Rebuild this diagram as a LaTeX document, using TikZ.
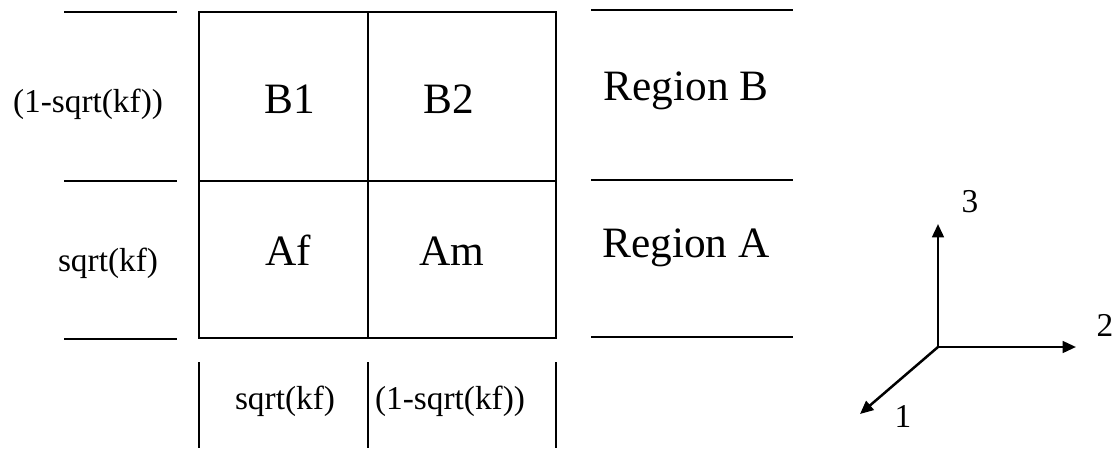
\documentclass[tikz,border=0pt]{standalone}
\usepackage{fontspec}
\setmainfont{Liberation Serif}
\usetikzlibrary{arrows.meta,positioning}

\begin{document}
\begin{tikzpicture}[x=0.6pt,y=-0.6pt,line width=1.4pt,
    cell/.style={font=\fontsize{26}{28}\selectfont},
    ratio/.style={font=\fontsize{20}{22}\selectfont},
    axis/.style={line width=1.5pt,-{Triangle[length=8pt,width=7pt]}}]
  \useasboundingbox (0,0) rectangle (1115,448);
  % the four cells
  \draw (199,12) rectangle (556,338);
  \draw (368,12) -- (368,338);
  \draw (199,181) -- (556,181);
  \node[cell] (b1) at (290,99) {B1};
  \node[cell] (b2) at (449,99) {B2};
  \node[cell] (af) at (288,250) {Af};
  \node[cell] (am) at (452,251) {Am};
  % heights on the left
  \foreach \y in {12,181,339} \draw (64,\y) -- (177,\y);
  \node[ratio] (hb) at (88,104) {(1-sqrt(kf))};
  \node[ratio] (ha) at (108,263) {sqrt(kf)};
  % widths below
  \foreach \x in {199,368,556} \draw (\x,362) -- (\x,448);
  \node[ratio] (wf) at (285,401) {sqrt(kf)};
  \node[ratio] (wm) at (450,401) {(1-sqrt(kf))};
  % regions on the right
  \foreach \y in {10,180,337} \draw (591,\y) -- (793,\y);
  \node[cell] (rb) at (686,91) {Region B};
  \node[cell] (ra) at (686,248) {Region A};
  % axes
  \coordinate (o) at (938,347);
  \coordinate (e3) at (938,224);
  \coordinate (e2) at (1076,347);
  \coordinate (e1) at (860,414);
  \draw[axis] (o) -- (e3);
  \draw[axis] (o) -- (e2);
  \draw[axis] (o) -- (e1);
  \node[ratio] (l3) at (970,202) {3};
  \node[ratio] (l2) at (1105,325) {2};
  \node[ratio] (l1) at (903,416) {1};
\end{tikzpicture}
\end{document}
